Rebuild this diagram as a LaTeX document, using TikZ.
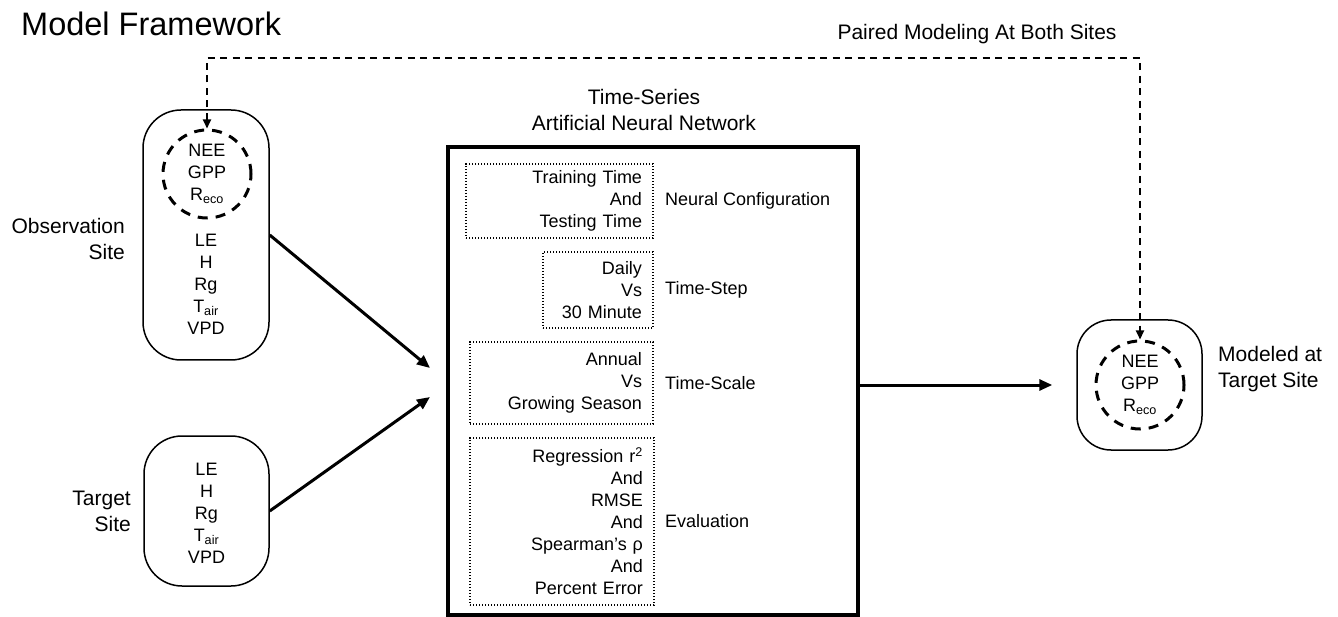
\documentclass[tikz,border=0pt]{standalone}
\usepackage{fontspec}
\setmainfont{Liberation Sans}
\usetikzlibrary{arrows.meta}
\begin{document}
\begin{tikzpicture}[x=1pt,y=-1pt,
  body/.style={font=\fontsize{18}{22}\selectfont, align=center, inner sep=0pt},
  side/.style={font=\fontsize{21}{26}\selectfont, inner sep=0pt},
  sitebox/.style={draw, line width=1.5pt, rounded corners=38pt, inner sep=0pt},
  dcirc/.style={draw, circle, line width=3pt, dash pattern=on 10pt off 8pt, minimum size=88pt, inner sep=0pt, body},
  dotbox/.style={draw, line width=1.6pt, dash pattern=on 1.4pt off 1.6pt, inner ysep=0pt, inner xsep=11pt, align=right, font=\fontsize{18}{22}\selectfont},
  lab/.style={font=\fontsize{18}{22}\selectfont, anchor=west, inner sep=0pt},
  arr/.style={line width=3pt, -{Triangle[length=13pt,width=11pt]}},
  dconn/.style={line width=1.8pt, dash pattern=on 7pt off 5.5pt, {Triangle[length=9pt,width=8pt]}-{Triangle[length=9pt,width=8pt]}}
]
\useasboundingbox (0,0) rectangle (1338,617);

% title
\node[anchor=west, inner sep=0pt, font=\fontsize{32.5}{38}\selectfont] (title) at (21,24) {Model Framework};
\node[side] (paired) at (977,34) {Paired Modeling At Both Sites};

% observation site
\node[sitebox, minimum width=126pt, minimum height=250pt] (obs) at (206,235) {};
\node[dcirc] (obsc) at (207,174) {NEE\\GPP\\R\textsubscript{eco}};
\node[body] (obsl) at (206,284) {LE\\H\\Rg\\T\textsubscript{air}\\VPD};
\node[side, align=right, anchor=east] (obslab) at (125,239) {Observation\\Site};

% target site
\node[sitebox, minimum width=125pt, minimum height=150pt] (tgt) at (206.5,511) {};
\node[body] (tgtl) at (206.5,513) {LE\\H\\Rg\\T\textsubscript{air}\\VPD};
\node[side, align=right, anchor=east] (tgtlab) at (131,511) {Target\\Site};

% ANN
\node[side, align=center] (anntitle) at (644,110) {Time-Series\\Artificial Neural Network};
\node[draw, line width=3.5pt, minimum width=410pt, minimum height=468pt, inner sep=0pt] (ann) at (653,381) {};

\node[dotbox, text width=165pt, minimum height=74pt] (b1) at (559.5,201) {Training Time\\And\\Testing Time};
\node[lab] (l1) at (665,201) {Neural Configuration};
\node[dotbox, text width=88pt, minimum height=76pt] (b2) at (598,290) {Daily\\Vs\\30 Minute};
\node[lab] (l2) at (665,290) {Time-Step};
\node[dotbox, text width=161pt, minimum height=82pt] (b3) at (561.5,383) {Annual\\Vs\\Growing Season};
\node[lab] (l3) at (665,383) {Time-Scale};
\node[dotbox, text width=162pt, minimum height=167pt] (b4) at (562,521.5) {Regression r\textsuperscript{2}\\And\\RMSE\\And\\Spearman’s ρ\\And\\Percent Error};
\node[lab] (l4) at (665,521.5) {Evaluation};

% output
\node[sitebox, rounded corners=34pt, minimum width=125pt, minimum height=130pt] (out) at (1139.5,385) {};
\node[dcirc] (outc) at (1140,385) {NEE\\GPP\\R\textsubscript{eco}};
\node[side, align=left, anchor=west] (outlab) at (1218,369) {Modeled at\\Target Site};

% connectors
\coordinate (in1) at (430,368);
\coordinate (in2) at (430,397);
\coordinate (top) at (0,58);
\draw[arr] (obs.east) -- (in1);
\draw[arr] (tgt.east) -- (in2);
\draw[arr] (ann.east |- out.west) -- ([xshift=-24pt]out.west);
\draw[dconn] (obsc.north) -- (obsc.north |- top) -- (outc.north |- top) -- (outc.north);
\end{tikzpicture}
\end{document}
